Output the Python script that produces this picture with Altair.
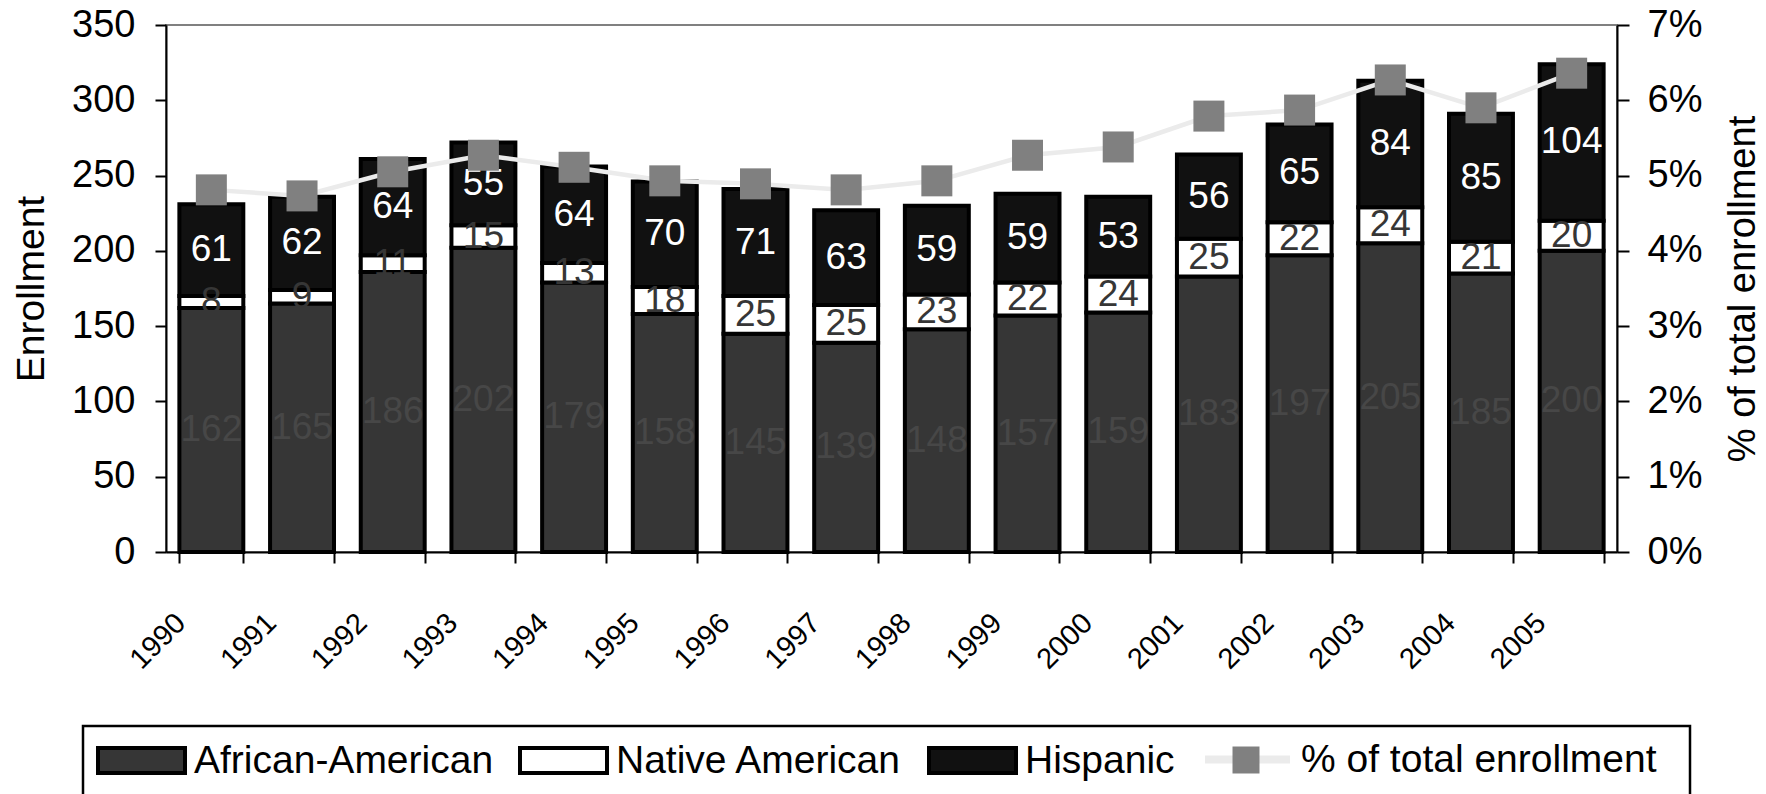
import altair as alt
import pandas as pd

# Enrollment by group, 1990-2005
years = [str(y) for y in range(1990, 2006)]
african_american = [162, 165, 186, 202, 179, 158, 145, 139, 148, 157, 159, 183, 197, 205, 185, 200]
native_american = [8, 9, 11, 15, 13, 18, 25, 25, 23, 22, 24, 25, 22, 24, 21, 20]
hispanic = [61, 62, 64, 55, 64, 70, 71, 63, 59, 59, 53, 56, 65, 84, 85, 104]
# share of total enrollment, in percent
pct_total = [4.81, 4.73, 5.05, 5.27, 5.11, 4.93, 4.89, 4.81, 4.93, 5.27, 5.38, 5.79, 5.87, 6.27, 5.90, 6.36]

series_names = ["African-American", "Native American", "Hispanic"]
line_name = "% of total enrollment"
marker_key = "share marker"
enroll_ticks = list(range(0, 351, 50))
pct_ticks = [k / 100 for k in range(8)]

FONT = "Liberation Sans"
W, H = 1451, 527

rows = []
for i, yr in enumerate(years):
    base = 0
    for k, (name, vals) in enumerate(zip(series_names, [african_american, native_american, hispanic])):
        v = vals[i]
        rows.append({"year": yr, "series": name, "rank": k, "value": v, "mid": base + v / 2})
        base += v
stack_df = pd.DataFrame(rows)
pct_df = pd.DataFrame({
    "year": years,
    "pct": [p / 100 for p in pct_total],
    "series": line_name,
    "marker": marker_key,
})

y_left = alt.Scale(domain=[0, 350], nice=False, zero=True)
y_right = alt.Scale(domain=[0, 0.07], nice=False, zero=True)

x_main = alt.X(
    "year:N", sort=years,
    scale=alt.Scale(paddingInner=0.295, paddingOuter=0.1475),
    axis=alt.Axis(
        title=None, labelAngle=-45, labelAlign="right", labelBaseline="middle",
        labelFontSize=29, labelOffset=-31, labelPadding=55, tickBand="extent",
        tickSize=11, tickWidth=2, tickColor="black", domainColor="black", domainWidth=2,
        labelColor="black",
    ),
)
x_plain = alt.X("year:N", sort=years)

bars = alt.Chart(stack_df).mark_bar(stroke="black", strokeWidth=4, strokeJoin="miter").encode(
    x=x_main,
    y=alt.Y(
        "value:Q", stack="zero", scale=y_left,
        axis=alt.Axis(
            title="Enrollment", orient="left", values=enroll_ticks, labelFontSize=38,
            labelPadding=20, tickSize=11, tickWidth=2, tickColor="black",
            domainColor="black", domainWidth=2, labelColor="black",
            titleFontSize=39, titleFontWeight="normal", titleColor="black", titlePadding=20,
        ),
    ),
    fill=alt.Fill(
        "series:N",
        scale=alt.Scale(domain=series_names, range=["#363636", "#ffffff", "#111111"]),
        legend=alt.Legend(
            title=None, orient="none", legendX=-70, legendY=690, direction="horizontal",
            symbolType="M-1,-0.287H1V0.287H-1Z", symbolSize=7569,
            symbolStrokeColor="black", symbolStrokeWidth=4,
            labelOffset=7, columnPadding=18, labelFontSize=39, labelLimit=600,
            labelColor="black", padding=0,
        ),
    ),
    order=alt.Order("rank:Q"),
)

value_labels = alt.Chart(stack_df).mark_text(fontSize=37, font=FONT, baseline="middle").encode(
    x=x_plain,
    y=alt.Y("mid:Q", scale=y_left, axis=None),
    text=alt.Text("value:Q", format="d"),
    color=alt.Color(
        "series:N",
        scale=alt.Scale(domain=series_names, range=["#474747", "#363636", "#ffffff"]),
        legend=None,
    ),
)

share_line = alt.Chart(pct_df).mark_line(strokeWidth=4.5).encode(
    x=x_plain,
    y=alt.Y(
        "pct:Q", scale=y_right,
        axis=alt.Axis(
            title=line_name, orient="right", format=".0%", values=pct_ticks,
            labelFontSize=38, labelPadding=18, tickSize=12, tickWidth=2, tickColor="black",
            domainColor="black", domainWidth=2, labelColor="black",
            titleFontSize=38, titleFontWeight="normal", titleColor="black",
            titleAngle=270, titleBaseline="top", titlePadding=23,
        ),
    ),
    stroke=alt.Stroke(
        "series:N", scale=alt.Scale(domain=[line_name], range=["#EBEBEB"]),
        legend=alt.Legend(
            title=None, orient="none", legendX=1035, legendY=688,
            symbolType="stroke", symbolSize=7225, symbolStrokeWidth=8,
            symbolStrokeColor="#EBEBEB", labelOffset=7, labelFontSize=39,
            labelLimit=600, labelColor="black", padding=0, zindex=0,
        ),
    ),
)

share_points = alt.Chart(pct_df).mark_point(filled=True, size=961, opacity=1, color="#808080").encode(
    x=x_plain,
    y=alt.Y("pct:Q", scale=y_right, axis=None),
    shape=alt.Shape(
        "marker:N", scale=alt.Scale(domain=[marker_key], range=["square"]),
        legend=alt.Legend(
            title=None, orient="none", legendX=1061, legendY=716,
            symbolType="square", symbolSize=729, symbolFillColor="#808080",
            symbolStrokeWidth=0, symbolOpacity=1, labelExpr="''",
            labelFontSize=38, padding=0, zindex=1,
        ),
    ),
)

legend_box = alt.Chart(pd.DataFrame({"box": [0]})).mark_rect(
    fill="transparent", stroke="black", strokeWidth=2.5
).encode(
    x=alt.value(-83), x2=alt.value(1524), y=alt.value(701), y2=alt.value(780),
)

chart = (
    alt.layer(bars, value_labels, share_line, share_points, legend_box)
    .resolve_scale(y="independent")
    .properties(
        width=W, height=H,
        autosize=alt.AutoSizeParams(type="none"),
        padding={"left": 166, "top": 25, "right": 149, "bottom": 242},
    )
    .configure(font=FONT)
    .configure_view(stroke="#808080", strokeWidth=2)
    .configure_axis(labelFont=FONT, titleFont=FONT, grid=False)
    .configure_legend(labelFont=FONT)
)

chart.save("out.html", embed_options={"renderer": "svg", "actions": False})
